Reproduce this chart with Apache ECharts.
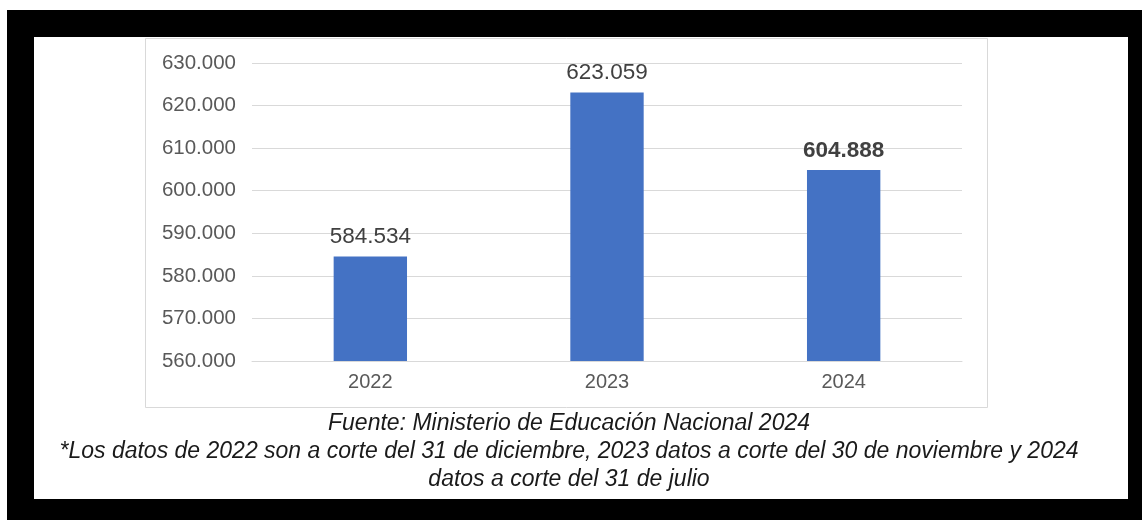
<!DOCTYPE html>
<html>
<head>
<meta charset="utf-8">
<script src="https://cdn.jsdelivr.net/npm/echarts@6/dist/echarts.min.js"></script>
<style>
html,body{margin:0;padding:0;background:#fff;}
#c{width:1142px;height:520px;}
</style>
</head>
<body>
<div id="c"></div>
<script>
const categories = ['2022', '2023', '2024'];
const values = [584534, 623059, 604888];
const boldLabel = [false, false, true];
const yMin = 560000, yMax = 630000, yStep = 10000;
const captionLines = [
  'Fuente: Ministerio de Educación Nacional 2024',
  '*Los datos de 2022 son a corte del 31 de diciembre, 2023 datos a corte del 30 de noviembre y 2024',
  'datos a corte del 31 de julio'
];

function fmt(v){ return String(v).replace(/\B(?=(\d{3})+(?!\d))/g, '.'); }

const chart = echarts.init(document.getElementById('c'), null, {renderer:'canvas'});
const font = 'Liberation Sans, Arial, sans-serif';

const graphics = [
  {type:'rect', z:-10, silent:true, shape:{x:7,y:10,width:1135,height:510}, style:{fill:'#000'}},
  {type:'rect', z:-9, silent:true, shape:{x:34,y:37,width:1094,height:462}, style:{fill:'#fff'}},
  {type:'rect', z:-8, silent:true, shape:{x:145.5,y:38.5,width:842,height:369}, style:{fill:'#fff', stroke:'#d9d9d9', lineWidth:1}}
];
const capY = [424, 452, 480];
captionLines.forEach((t,i)=>{
  graphics.push({type:'text', silent:true, x:569, y:capY[i], style:{text:t, fill:'#1a1a1a', font:'italic 23px '+font, align:'center', verticalAlign:'middle'}});
});

chart.setOption({
  animation:false,
  backgroundColor:'#fff',
  graphic: graphics,
  grid:{left:252, right:180, top:63, bottom:159, containLabel:false},
  xAxis:{
    type:'category', data:categories,
    axisLine:{show:true, lineStyle:{color:'#d9d9d9', width:1}},
    axisTick:{show:false},
    axisLabel:{color:'#595959', fontSize:20, fontFamily:font, margin:11}
  },
  yAxis:{
    type:'value', min:yMin, max:yMax, interval:yStep,
    axisLine:{show:false}, axisTick:{show:false},
    splitLine:{lineStyle:{color:'#d9d9d9', width:1}},
    axisLabel:{color:'#595959', fontSize:20.5, fontFamily:font, margin:16, formatter:fmt}
  },
  series:[{
    type:'bar', barWidth:'31%',
    itemStyle:{color:'#4472C4'},
    data: values.map((v,i)=>({value:v, label:{fontWeight: boldLabel[i] ? 'bold':'normal'}})),
    label:{show:true, position:'top', distance:8, color:'#404040', fontSize:22.5, fontFamily:font, formatter:p=>fmt(p.value)}
  }]
});
</script>
</body>
</html>
